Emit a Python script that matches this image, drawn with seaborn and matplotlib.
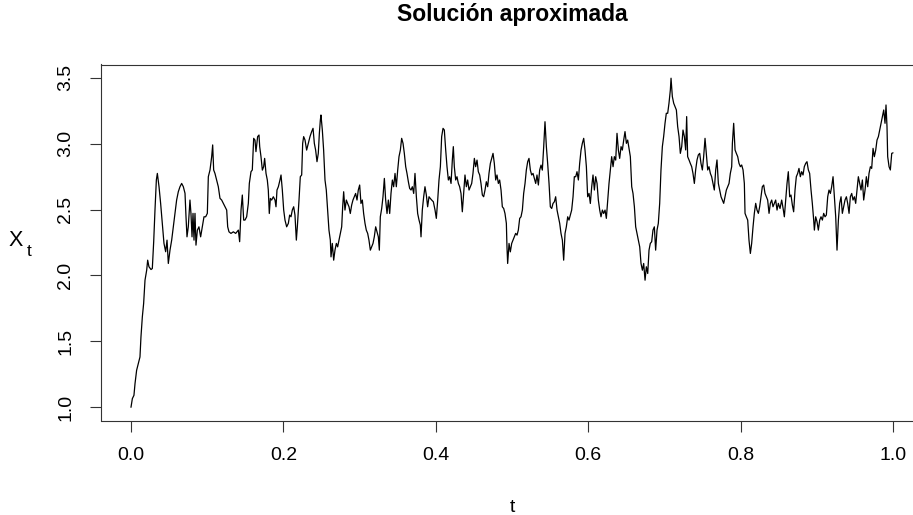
import matplotlib
matplotlib.use("Agg")
import matplotlib.pyplot as plt
import seaborn as sns
import pandas as pd

# ---------------- data ----------------
title = "Solución aproximada"
x_label = "t"
y_label_main = "X"
y_label_sub = "t"

x_ticks = [0.0, 0.2, 0.4, 0.6, 0.8, 1.0]
x_tick_labels = ["0.0", "0.2", "0.4", "0.6", "0.8", "1.0"]
y_ticks = [1.0, 1.5, 2.0, 2.5, 3.0, 3.5]
y_tick_labels = ["1.0", "1.5", "2.0", "2.5", "3.0", "3.5"]

t_values = [
    0.0000, 0.0018, 0.0039, 0.0053, 0.0074, 0.0096, 0.0118, 0.0131, 0.0149, 0.0166,
    0.0184, 0.0206, 0.0219, 0.0236, 0.0263, 0.0280, 0.0298, 0.0315, 0.0333, 0.0346,
    0.0368, 0.0389, 0.0411, 0.0433, 0.0455, 0.0473, 0.0490, 0.0512, 0.0534, 0.0556,
    0.0578, 0.0599, 0.0621, 0.0643, 0.0665, 0.0687, 0.0709, 0.0722, 0.0735, 0.0752,
    0.0774, 0.0787, 0.0801, 0.0814, 0.0827, 0.0840, 0.0853, 0.0871, 0.0892, 0.0914,
    0.0936, 0.0958, 0.0980, 0.1002, 0.1015, 0.1037, 0.1059, 0.1072, 0.1085, 0.1102,
    0.1124, 0.1146, 0.1168, 0.1190, 0.1212, 0.1234, 0.1256, 0.1269, 0.1286, 0.1312,
    0.1343, 0.1374, 0.1409, 0.1426, 0.1444, 0.1461, 0.1479, 0.1496, 0.1518, 0.1540,
    0.1553, 0.1575, 0.1592, 0.1610, 0.1627, 0.1640, 0.1662, 0.1680,
    0.1689, 0.1706, 0.1724, 0.1741, 0.1754, 0.1772, 0.1789, 0.1802, 0.1815, 0.1829,
    0.1846, 0.1868, 0.1890, 0.1903, 0.1916, 0.1934, 0.1955, 0.1969, 0.1986, 0.2004,
    0.2021, 0.2043, 0.2065, 0.2082, 0.2100, 0.2117, 0.2135, 0.2152, 0.2170, 0.2183,
    0.2205, 0.2222, 0.2240, 0.2253, 0.2266, 0.2284, 0.2305, 0.2327, 0.2349, 0.2371,
    0.2389, 0.2406, 0.2423, 0.2441, 0.2458, 0.2472, 0.2485, 0.2493, 0.2511, 0.2528,
    0.2546, 0.2563, 0.2581, 0.2598, 0.2616, 0.2625, 0.2642, 0.2660, 0.2677, 0.2695,
    0.2712, 0.2730, 0.2747, 0.2765, 0.2778, 0.2791, 0.2808, 0.2826, 0.2843, 0.2861,
    0.2878, 0.2896, 0.2913, 0.2931, 0.2948, 0.2966, 0.2983, 0.3001, 0.3018, 0.3036,
    0.3053, 0.3071, 0.3088, 0.3106, 0.3123, 0.3141, 0.3158, 0.3176, 0.3193, 0.3211,
    0.3228, 0.3246, 0.3259, 0.3272, 0.3290, 0.3307, 0.3325, 0.3342, 0.3360, 0.3377,
    0.3395,
    0.3412, 0.3430, 0.3447, 0.3465, 0.3482, 0.3500, 0.3517, 0.3535, 0.3552, 0.3570,
    0.3587, 0.3605, 0.3622, 0.3640, 0.3657, 0.3675, 0.3692, 0.3710, 0.3727, 0.3745,
    0.3762, 0.3780, 0.3797, 0.3806, 0.3823, 0.3841, 0.3858, 0.3876, 0.3893, 0.3911,
    0.3928, 0.3946, 0.3968, 0.3990, 0.4007, 0.4025, 0.4042, 0.4060, 0.4077, 0.4095,
    0.4112, 0.4130, 0.4147, 0.4165, 0.4182, 0.4200, 0.4217, 0.4230, 0.4243, 0.4261,
    0.4278, 0.4296, 0.4313, 0.4331, 0.4348, 0.4366, 0.4383, 0.4401, 0.4418, 0.4436,
    0.4453, 0.4471, 0.4488, 0.4506, 0.4523, 0.4541, 0.4558, 0.4576, 0.4593, 0.4611,
    0.4628, 0.4646, 0.4663, 0.4681, 0.4698, 0.4716, 0.4733, 0.4751, 0.4768, 0.4786,
    0.4803, 0.4821, 0.4838, 0.4856, 0.4873, 0.4891, 0.4908, 0.4926, 0.4934, 0.4943,
    0.4961, 0.4978, 0.4996, 0.5013, 0.5031, 0.5048, 0.5066, 0.5083, 0.5101,
    0.5118, 0.5136, 0.5153, 0.5171, 0.5188, 0.5206, 0.5223, 0.5241, 0.5258, 0.5276,
    0.5293, 0.5311, 0.5328, 0.5346, 0.5363, 0.5381, 0.5398, 0.5416, 0.5433, 0.5451,
    0.5468, 0.5486, 0.5503, 0.5521, 0.5538, 0.5556, 0.5573, 0.5591, 0.5608, 0.5626,
    0.5643, 0.5661, 0.5678, 0.5696, 0.5713, 0.5731, 0.5748, 0.5766, 0.5783, 0.5801,
    0.5818, 0.5836, 0.5853, 0.5871, 0.5888, 0.5906, 0.5923, 0.5941, 0.5958, 0.5976,
    0.5993, 0.6011, 0.6028, 0.6046, 0.6063, 0.6081, 0.6098, 0.6116, 0.6133, 0.6151,
    0.6168, 0.6186, 0.6203, 0.6221, 0.6238, 0.6256, 0.6273, 0.6291, 0.6308, 0.6326,
    0.6343, 0.6361, 0.6378, 0.6396, 0.6413, 0.6431, 0.6448, 0.6466, 0.6483, 0.6501,
    0.6518, 0.6536, 0.6553, 0.6571, 0.6588, 0.6606, 0.6623, 0.6641, 0.6658, 0.6676,
    0.6693, 0.6711, 0.6728, 0.6746, 0.6763, 0.6781, 0.6798,
    0.6815, 0.6833, 0.6850, 0.6868, 0.6885, 0.6903, 0.6920, 0.6938, 0.6955, 0.6973,
    0.6990, 0.7008, 0.7025, 0.7043, 0.7060, 0.7078, 0.7087, 0.7104, 0.7122, 0.7139,
    0.7157, 0.7174, 0.7192, 0.7209, 0.7227, 0.7244, 0.7262, 0.7279, 0.7292, 0.7305,
    0.7323, 0.7340, 0.7358, 0.7375, 0.7393, 0.7410, 0.7428, 0.7445, 0.7463, 0.7480,
    0.7498, 0.7515, 0.7533, 0.7550, 0.7568, 0.7585, 0.7603, 0.7620, 0.7638, 0.7655,
    0.7673, 0.7690, 0.7708, 0.7725, 0.7743, 0.7760, 0.7778, 0.7795, 0.7813, 0.7830,
    0.7848, 0.7865, 0.7883, 0.7892, 0.7909, 0.7927, 0.7944, 0.7962, 0.7979, 0.7997,
    0.8014, 0.8032, 0.8049, 0.8058, 0.8075, 0.8093, 0.8110, 0.8128, 0.8145, 0.8163,
    0.8180, 0.8198, 0.8215, 0.8233, 0.8250, 0.8268, 0.8285, 0.8303, 0.8320, 0.8338,
    0.8355, 0.8373, 0.8390, 0.8408, 0.8425, 0.8443, 0.8460, 0.8478, 0.8495,
    0.8517, 0.8539, 0.8561, 0.8574, 0.8591, 0.8609, 0.8626, 0.8644, 0.8661, 0.8679,
    0.8696, 0.8714, 0.8731, 0.8749, 0.8766, 0.8784, 0.8801, 0.8819, 0.8836, 0.8854,
    0.8871, 0.8889, 0.8906, 0.8924, 0.8941, 0.8959, 0.8968, 0.8985, 0.9003, 0.9020,
    0.9038, 0.9055, 0.9073, 0.9090, 0.9108, 0.9125, 0.9143, 0.9160, 0.9178, 0.9195,
    0.9213, 0.9230, 0.9248, 0.9265, 0.9283, 0.9300, 0.9318, 0.9335, 0.9353, 0.9370,
    0.9388, 0.9405, 0.9423, 0.9440, 0.9458, 0.9475, 0.9493, 0.9510, 0.9528, 0.9545,
    0.9563, 0.9580, 0.9598, 0.9615, 0.9633, 0.9650, 0.9668, 0.9685, 0.9703, 0.9720,
    0.9738, 0.9755, 0.9773, 0.9790, 0.9808, 0.9825, 0.9843, 0.9860, 0.9878, 0.9895,
    0.9908, 0.9921, 0.9930, 0.9948, 0.9965, 0.9983, 1.0000,
]

x_values = [
    1.000, 1.066, 1.091, 1.180, 1.281, 1.332, 1.382, 1.534, 1.686, 1.787,
    1.964, 2.040, 2.116, 2.066, 2.045, 2.053, 2.256, 2.496, 2.724, 2.774,
    2.673, 2.547, 2.395, 2.243, 2.180, 2.268, 2.091, 2.192, 2.268, 2.369,
    2.471, 2.572, 2.635, 2.673, 2.698, 2.673, 2.623, 2.445, 2.293, 2.369,
    2.572, 2.471, 2.293, 2.471, 2.268, 2.471, 2.230, 2.344, 2.369, 2.293,
    2.369, 2.445, 2.445, 2.471, 2.749, 2.800, 2.901, 2.990, 2.800, 2.774,
    2.724, 2.673, 2.585, 2.572, 2.547, 2.521, 2.496, 2.369, 2.331, 2.319,
    2.331, 2.319, 2.344, 2.256, 2.496, 2.610, 2.420, 2.420, 2.445, 2.547,
    2.698, 2.787, 2.800, 3.040, 3.027, 2.939, 3.053, 3.065,
    2.977, 2.901, 2.799, 2.825, 2.888, 2.774, 2.724, 2.648, 2.470, 2.584,
    2.572, 2.597, 2.572, 2.521, 2.648, 2.673, 2.724, 2.762, 2.648, 2.496,
    2.420, 2.369, 2.395, 2.458, 2.445, 2.496, 2.521, 2.458, 2.268, 2.369,
    2.572, 2.749, 2.762, 3.002, 3.053, 3.027, 2.951, 3.002, 3.053, 3.091,
    3.116, 3.002, 2.951, 2.863, 2.926, 3.078, 3.179, 3.217, 3.103, 2.951,
    2.724, 2.648, 2.496, 2.344, 2.268, 2.141, 2.243, 2.116, 2.192, 2.243,
    2.217, 2.268, 2.319, 2.369, 2.521, 2.635, 2.496, 2.572, 2.546, 2.521,
    2.470, 2.534, 2.572, 2.597, 2.622, 2.572, 2.648, 2.686, 2.546, 2.572,
    2.470, 2.395, 2.344, 2.319, 2.268, 2.192, 2.217, 2.243, 2.293, 2.369,
    2.331, 2.293, 2.192, 2.445, 2.508, 2.597, 2.736, 2.572, 2.470, 2.572,
    2.470,
    2.622, 2.724, 2.673, 2.774, 2.673, 2.799, 2.901, 2.951, 3.040, 3.002,
    2.926, 2.825, 2.774, 2.711, 2.660, 2.648, 2.673, 2.622, 2.774, 2.597,
    2.470, 2.420, 2.382, 2.293, 2.496, 2.597, 2.673, 2.610, 2.521, 2.597,
    2.584, 2.572, 2.559, 2.496, 2.433, 2.572, 2.724, 2.825, 3.053, 3.116,
    3.103, 2.951, 2.825, 2.724, 2.749, 2.698, 2.875, 2.977, 2.825, 2.724,
    2.749, 2.698, 2.673, 2.622, 2.483, 2.622, 2.762, 2.673, 2.724, 2.648,
    2.673, 2.698, 2.774, 2.888, 2.825, 2.875, 2.787, 2.762, 2.698, 2.610,
    2.597, 2.648, 2.711, 2.673, 2.774, 2.850, 2.888, 2.926, 2.850, 2.724,
    2.762, 2.698, 2.724, 2.648, 2.521, 2.508, 2.470, 2.395, 2.217, 2.091,
    2.243, 2.179, 2.243, 2.268, 2.293, 2.319, 2.306, 2.344, 2.433,
    2.445, 2.496, 2.622, 2.698, 2.799, 2.863, 2.888, 2.799, 2.762, 2.774,
    2.736, 2.698, 2.762, 2.686, 2.799, 2.837, 2.799, 2.977, 3.166, 2.977,
    2.850, 2.698, 2.521, 2.508, 2.546, 2.559, 2.597, 2.496, 2.445, 2.395,
    2.319, 2.268, 2.116, 2.319, 2.369, 2.445, 2.420, 2.458, 2.496, 2.597,
    2.749, 2.749, 2.787, 2.724, 2.850, 2.951, 3.002, 3.040, 2.951, 2.825,
    2.597, 2.622, 2.546, 2.673, 2.762, 2.648, 2.749, 2.698, 2.572, 2.496,
    2.445, 2.496, 2.470, 2.496, 2.433, 2.572, 2.698, 2.799, 2.901, 2.825,
    2.901, 2.875, 3.078, 2.951, 2.888, 2.977, 2.951, 3.027, 3.091, 3.002,
    3.027, 2.964, 2.901, 2.673, 2.622, 2.521, 2.369, 2.319, 2.268, 2.217,
    2.091, 2.040, 2.091, 1.964, 2.066, 2.015, 2.192,
    2.243, 2.256, 2.344, 2.369, 2.192, 2.344, 2.395, 2.547, 2.800, 2.977,
    3.053, 3.154, 3.230, 3.230, 3.306, 3.407, 3.496, 3.357, 3.306, 3.281,
    3.255, 3.129, 3.053, 2.926, 2.977, 3.103, 3.053, 2.952, 3.205, 2.901,
    2.876, 2.850, 2.825, 2.774, 2.698, 2.800, 2.876, 2.914, 2.926, 2.850,
    2.800, 2.901, 3.040, 2.926, 2.800, 2.825, 2.774, 2.749, 2.698, 2.648,
    2.800, 2.876, 2.698, 2.648, 2.597, 2.572, 2.547, 2.597, 2.648, 2.673,
    2.698, 2.774, 2.825, 3.002, 3.154, 2.952, 2.926, 2.901, 2.850, 2.825,
    2.838, 2.800, 2.698, 2.471, 2.445, 2.420, 2.268, 2.167, 2.243, 2.369,
    2.471, 2.547, 2.496, 2.471, 2.521, 2.597, 2.673, 2.686, 2.623, 2.597,
    2.572, 2.471, 2.547, 2.572, 2.521, 2.547, 2.572, 2.496, 2.547,
    2.508, 2.572, 2.496, 2.445, 2.572, 2.698, 2.787, 2.597, 2.610, 2.534,
    2.483, 2.648, 2.749, 2.774, 2.812, 2.749, 2.787, 2.762, 2.825, 2.850,
    2.863, 2.800, 2.774, 2.648, 2.547, 2.420, 2.344, 2.445, 2.407, 2.344,
    2.420, 2.445, 2.420, 2.471, 2.445, 2.458, 2.597, 2.648, 2.622, 2.673,
    2.749, 2.597, 2.445, 2.192, 2.420, 2.547, 2.597, 2.471, 2.521, 2.572,
    2.597, 2.547, 2.471, 2.597, 2.622, 2.572, 2.597, 2.547, 2.648, 2.749,
    2.698, 2.648, 2.724, 2.572, 2.648, 2.749, 2.673, 2.774, 2.825, 2.812,
    2.964, 2.901, 2.951, 3.027, 3.053, 3.103, 3.154, 3.205, 3.255, 3.154,
    3.293, 3.129, 2.901, 2.825, 2.800, 2.926, 2.930,
]

# ---------------- figure ----------------
sns.set_theme(style="ticks")
plt.rcParams["font.family"] = ["Liberation Sans", "DejaVu Sans"]

W, H = 913, 515
fig = plt.figure(figsize=(W / 100, H / 100), dpi=100)
fig.patch.set_facecolor("white")
ax = fig.add_axes([100.5 / W, (H - 420.5) / H, 823 / W, 356 / H])
ax.set_facecolor("white")

df = pd.DataFrame({"t": t_values, "X": x_values})
sns.lineplot(data=df, x="t", y="X", ax=ax, color="black", linewidth=0.9,
             estimator=None, sort=False)

ax.set_xlim(-0.04, 1.04)
ax.set_ylim(0.9, 3.6)
ax.set_xticks(x_ticks)
ax.set_xticklabels(x_tick_labels)
ax.set_yticks(y_ticks)
ax.set_yticklabels(y_tick_labels, rotation=90, va="center")
ax.tick_params(axis="both", direction="out", length=8, width=0.8,
               color="#333333", labelsize=14, pad=11, labelcolor="black")
for s in ax.spines.values():
    s.set_visible(True)
    s.set_color("#333333")
    s.set_linewidth(0.8)

ax.set_xlabel(x_label, fontsize=14, color="black")
ax.xaxis.set_label_coords(0.5, -0.243)
ax.xaxis.label.set_va("center")
ax.set_ylabel("")

# y label "X" with subscript "t" (as in R's expression(X[t]))
fig.text(15.5 / W, (H - 241) / H, y_label_main, ha="center", va="center",
         fontsize=15.5, color="black")
fig.text(29 / W, (H - 251) / H, y_label_sub, ha="center", va="center",
         fontsize=12.5, color="black")

fig.text(512 / W, (H - 21) / H, title, ha="center", va="baseline",
         fontsize=16.5, fontweight="bold", color="black")

fig.savefig("out.png", dpi=100, facecolor="white")
